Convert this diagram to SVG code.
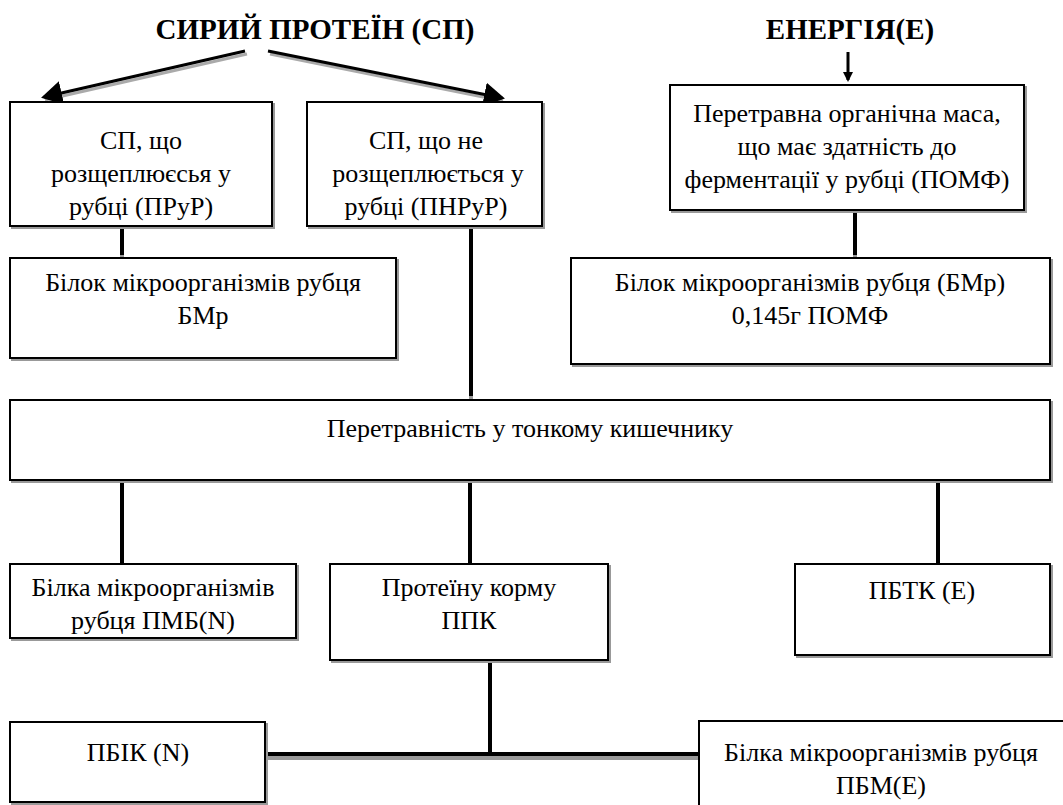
<svg xmlns="http://www.w3.org/2000/svg" width="1063" height="805" viewBox="0 0 1063 805">
<style>
.box{fill:#fff;stroke:#000;stroke-width:2}
.sh{fill:none;stroke:#999;stroke-width:2}
.t{font-size:26px;fill:#000;text-anchor:middle}
.h{font-size:29px;font-weight:bold;fill:#000;text-anchor:middle}
.ln{stroke:#000;stroke-width:4;fill:none}
.lns{stroke:#999;stroke-width:4;fill:none}
.ar{stroke:#000;stroke-width:3;fill:none}
.ars{stroke:#aaa;stroke-width:3;fill:none}
</style>
<defs>
<marker id="ah" markerWidth="8" markerHeight="8" refX="6" refY="4" orient="auto" markerUnits="strokeWidth">
<path d="M0,0 L7,4 L0,8 Z" fill="#000"/>
</marker>
<marker id="ah2" markerWidth="10" markerHeight="10" refX="8" refY="5" orient="auto" markerUnits="userSpaceOnUse">
<path d="M0,0 L10,5 L0,10 Z" fill="#000"/>
</marker>
</defs>
<rect width="1063" height="805" fill="#fff"/>
<g font-family="Liberation Serif, Times New Roman, Times, serif">
<g id="titles">
<text class="h" x="315" y="39">СИРИЙ ПРОТЕЇН (СП)</text>
<text class="h" x="850" y="39">ЕНЕРГІЯ(Е)</text>
</g>
<g id="connectors">
<line class="ars" x1="247" y1="54" x2="45" y2="100"/>
<line class="ar" x1="245" y1="51" x2="44" y2="97" marker-end="url(#ah)"/>
<line class="ars" x1="270" y1="54" x2="503" y2="101"/>
<line class="ar" x1="268" y1="51" x2="502" y2="98" marker-end="url(#ah)"/>
<line class="ar" x1="848" y1="52" x2="848" y2="80" stroke-width="2" marker-end="url(#ah2)"/>
<line class="lns" x1="122" y1="252" x2="122" y2="260"/>
<line class="ln" x1="122" y1="226" x2="122" y2="255"/>
<line class="lns" x1="855" y1="252" x2="855" y2="260"/>
<line class="ln" x1="855" y1="210" x2="855" y2="255"/>
<line class="lns" x1="471" y1="393" x2="471" y2="402"/>
<line class="ln" x1="471" y1="226" x2="471" y2="396"/>
<line class="ln" x1="122" y1="480" x2="122" y2="564"/>
<line class="ln" x1="470" y1="480" x2="470" y2="564"/>
<line class="ln" x1="938" y1="480" x2="938" y2="564"/>
<line class="ln" x1="490" y1="660" x2="490" y2="756"/>
<line class="lns" x1="265" y1="758" x2="699" y2="758"/>
<line class="ln" x1="265" y1="754" x2="699" y2="754"/>
</g>
<g id="nodeA">
<rect class="sh" x="12" y="104" width="262" height="124"/>
<rect class="box" x="10" y="102" width="262" height="124"/>
<text class="t" x="141" y="149">СП, що</text>
<text class="t" x="141" y="182">розщеплюєсья у</text>
<text class="t" x="141" y="215">рубці (ПРуР)</text>
</g>
<g id="nodeB">
<rect class="sh" x="309" y="104" width="235" height="124"/>
<rect class="box" x="307" y="102" width="235" height="124"/>
<text class="t" x="426" y="149">СП, що не</text>
<text class="t" x="428" y="182">розщеплюється у</text>
<text class="t" x="426" y="215">рубці (ПНРуР)</text>
</g>
<g id="nodeC">
<rect class="sh" x="672" y="87" width="354" height="125"/>
<rect class="box" x="670" y="85" width="354" height="125"/>
<text class="t" x="847" y="122">Перетравна органічна маса,</text>
<text class="t" x="847" y="155">що має здатність до</text>
<text class="t" x="847" y="188">ферментації у рубці (ПОМФ)</text>
</g>
<g id="nodeD">
<rect class="sh" x="12" y="260" width="386" height="100"/>
<rect class="box" x="10" y="258" width="386" height="100"/>
<text class="t" x="203" y="291">Білок мікроорганізмів рубця</text>
<text class="t" x="203" y="324">БМр</text>
</g>
<g id="nodeE">
<rect class="sh" x="573" y="260" width="479" height="106"/>
<rect class="box" x="571" y="258" width="479" height="106"/>
<text class="t" x="810" y="291">Білок мікроорганізмів рубця (БМр)</text>
<text class="t" x="810" y="324">0,145г ПОМФ</text>
</g>
<g id="nodeF">
<rect class="sh" x="12" y="402" width="1040" height="80"/>
<rect class="box" x="10" y="400" width="1040" height="80"/>
<text class="t" x="530" y="437">Перетравність у тонкому кишечнику</text>
</g>
<g id="nodeG">
<rect class="sh" x="12" y="566" width="286" height="74"/>
<rect class="box" x="10" y="564" width="286" height="74"/>
<text class="t" x="153" y="596">Білка мікроорганізмів</text>
<text class="t" x="153" y="629">рубця ПМБ(N)</text>
</g>
<g id="nodeH">
<rect class="sh" x="332" y="566" width="278" height="96"/>
<rect class="box" x="330" y="564" width="278" height="96"/>
<text class="t" x="469" y="596">Протеїну корму</text>
<text class="t" x="469" y="629">ППК</text>
</g>
<g id="nodeI">
<rect class="sh" x="797" y="566" width="255" height="91"/>
<rect class="box" x="795" y="564" width="255" height="91"/>
<text class="t" x="922" y="599">ПБТК (Е)</text>
</g>
<g id="nodeJ">
<rect class="sh" x="12" y="724" width="255" height="80"/>
<rect class="box" x="10" y="722" width="255" height="80"/>
<text class="t" x="138" y="761">ПБІК (N)</text>
</g>
<g id="nodeK">
<rect class="sh" x="701" y="723" width="370" height="90"/>
<rect class="box" x="699" y="721" width="370" height="90"/>
<text class="t" x="881" y="761">Білка мікроорганізмів рубця</text>
<text class="t" x="881" y="794">ПБМ(Е)</text>
</g>
</g>
</svg>
